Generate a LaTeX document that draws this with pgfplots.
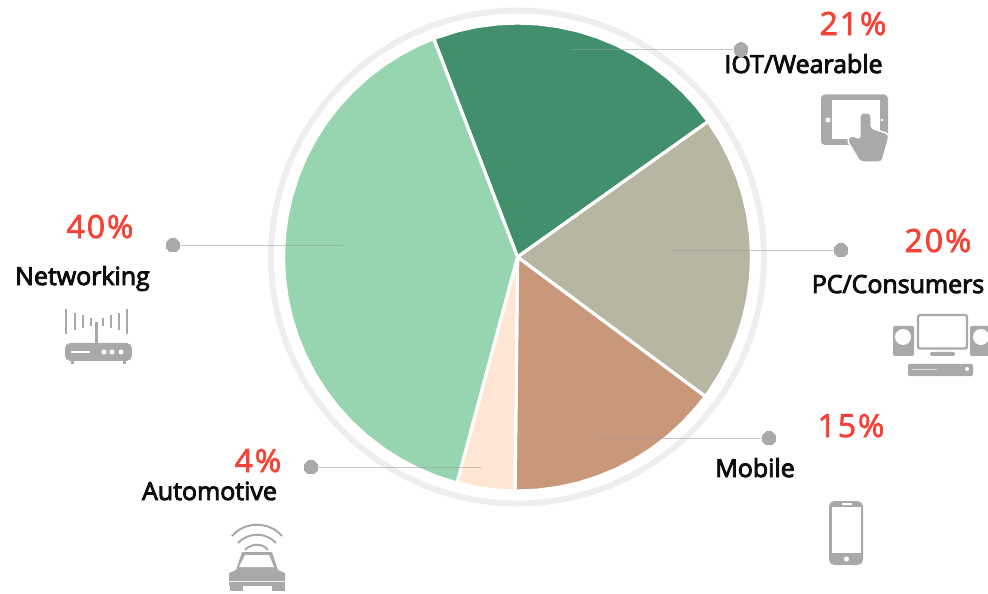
\documentclass[border=0pt]{standalone}
\usepackage{fontspec}
\setmainfont{Open Sans}
\newfontfamily\labfont[FakeBold=3.5]{Open Sans}
\newfontfamily\pctfont[FakeBold=2.2,LetterSpace=6]{Open Sans}
\usepackage{pgfplots}
\pgfplotsset{compat=1.18}
\definecolor{cA}{HTML}{41906B}
\definecolor{cB}{HTML}{B7B6A2}
\definecolor{cC}{HTML}{C9987B}
\definecolor{cD}{HTML}{FFE5D3}
\definecolor{cE}{HTML}{97D5B1}
\definecolor{ring}{HTML}{EEEEEE}
\definecolor{red1}{HTML}{F44336}
\definecolor{ico}{HTML}{A9A9A9}
\definecolor{leadc}{HTML}{999999}
\newcommand\slice[2]{\addplot[fill=#1,draw=white,line width=2.4pt,line join=round]
  table[row sep=\\,x expr={517.5+\thisrow{r}*cos(\thisrow{a})},y expr={257-\thisrow{r}*sin(\thisrow{a})}] {a r\\ #2};}
\newcommand\lead[4]{\addplot[leadc,opacity=.55,line width=.75pt] coordinates {(#1,#3) (#2,#3)};
  \addplot[ico,only marks,mark=*,mark size=5.2pt,mark options={solid,fill=ico,draw=ico,line width=0pt}] coordinates {(#4,#3)};}
\newcommand\lab[3]{\node[anchor=base,inner sep=0pt,font=\fontsize{18.7}{20}\labfont,text=black!95] at (axis cs:#1,#2) {#3};}
\newcommand\pct[3]{\node[anchor=base,inner sep=0pt,font=\fontsize{24}{26}\pctfont,text=red1] at (axis cs:#1,#2) {#3};}
\begin{document}
\begin{tikzpicture}
\begin{axis}[at={(0pt,0pt)},anchor=south west,width=741pt,height=444.75pt,scale only axis,hide axis,
  xmin=0,xmax=988,ymin=0,ymax=593,y dir=reverse,clip=false]
\addplot[ring,line width=4.5pt,smooth] table[row sep=\\,x expr={517.5+\thisrow{r}*cos(\thisrow{a})},y expr={257-\thisrow{r}*sin(\thisrow{a})}] {a r\\
0 246.5\\5 246.5\\10 246.5\\15 246.5\\20 246.5\\25 246.5\\30 246.5\\35 246.5\\40 246.5\\45 246.5\\50 246.5\\55 246.5\\60 246.5\\65 246.5\\70 246.5\\75 246.5\\80 246.5\\85 246.5\\90 246.5\\95 246.5\\100 246.5\\105 246.5\\110 246.5\\115 246.5\\120 246.5\\125 246.5\\130 246.5\\135 246.5\\140 246.5\\145 246.5\\150 246.5\\155 246.5\\160 246.5\\165 246.5\\170 246.5\\175 246.5\\180 246.5\\185 246.5\\190 246.5\\195 246.5\\200 246.5\\205 246.5\\210 246.5\\215 246.5\\220 246.5\\225 246.5\\230 246.5\\235 246.5\\240 246.5\\245 246.5\\250 246.5\\255 246.5\\260 246.5\\265 246.5\\270 246.5\\275 246.5\\280 246.5\\285 246.5\\290 246.5\\295 246.5\\300 246.5\\305 246.5\\310 246.5\\315 246.5\\320 246.5\\325 246.5\\330 246.5\\335 246.5\\340 246.5\\345 246.5\\350 246.5\\355 246.5\\360 246.5\\};
\slice{cA}{0 0\\111 234\\105 234\\100 234\\95 234\\90 234\\85 234\\80 234\\75 234\\70 234\\65 234\\60 234\\55 234\\50 234\\45 234\\40 234\\35.4 234\\0 0\\}
\slice{cB}{0 0\\35.4 234\\30 234\\25 234\\20 234\\15 234\\10 234\\5 234\\0 234\\-5 234\\-10 234\\-15 234\\-20 234\\-25 234\\-30 234\\-35 234\\-36.6 234\\0 0\\}
\slice{cC}{0 0\\-36.6 234\\-40 234\\-45 234\\-50 234\\-55 234\\-60 234\\-65 234\\-70 234\\-75 234\\-80 234\\-85 234\\-90 234\\-90.6 234\\0 0\\}
\slice{cD}{0 0\\-90.6 234\\-95 234\\-100 234\\-105 234\\0 0\\}
\slice{cE}{0 0\\-105 234\\-110 234\\-115 234\\-120 234\\-125 234\\-130 234\\-135 234\\-140 234\\-145 234\\-150 234\\-155 234\\-160 234\\-165 234\\-170 234\\-175 234\\-180 234\\-185 234\\-190 234\\-195 234\\-200 234\\-205 234\\-210 234\\-215 234\\-220 234\\-225 234\\-230 234\\-235 234\\-240 234\\-245 234\\-249 234\\0 0\\}
\lead{572}{741}{49.5}{741}
\lead{672}{841}{250}{841}
\lead{600}{769}{438}{769}
\lead{311}{481}{467}{311}
\lead{173}{343}{245}{173}
\pct{853}{35}{21\%}
\pct{938}{252}{20\%}
\pct{851}{437}{15\%}
\pct{258}{472}{4\%}
\pct{100}{238}{40\%}
\lab{803.5}{73}{IOT/Wearable}
\lab{898}{293}{PC/Consumers}
\lab{755}{477}{Mobile}
\lab{209.5}{500}{Automotive}
\lab{82.5}{285}{Networking}
\end{axis}
\begin{scope}[x=.75pt,y=-.75pt,yshift=444.75pt]
\useasboundingbox (0,0) rectangle (988,593);
% tablet
\fill[ico,rounded corners=3pt] (821,94.5) rectangle (888,145);
\fill[white] (832,100.5) rectangle (880,139);
\fill[white] (828,120) circle (1.9pt);
\fill[white] (882,120) circle (1.1pt);
\filldraw[ico,draw=white,line width=1.1pt,line join=round,rounded corners=2.4pt]
 (860,128) -- (860,113) -- (871,113) -- (871,128) -- (889,134) -- (888,141) -- (882,162) -- (860,162) -- (847,140) -- (851,135) -- (860,139) -- cycle;
% pc
\draw[ico,line width=1.7pt,rounded corners=1.5pt] (918,315) rectangle (967,348.5);
\fill[ico,rounded corners=1pt] (930,352) rectangle (955,356);
\fill[ico,rounded corners=1pt] (893,326) rectangle (914,356);
\fill[white] (903,337) circle (6pt);
\begin{scope}
\clip (960,300) rectangle (988,380);
\fill[ico,rounded corners=1pt] (970,326) rectangle (995,356);
\fill[white] (981,337) circle (6pt);
\end{scope}
\fill[ico,rounded corners=1pt] (908,364) rectangle (973,376);
\draw[white,opacity=.6,line width=.4pt] (912,369.5) -- (937,369.5);
\fill[white] (967,369) circle (1.5pt);
% phone
\fill[ico,rounded corners=4pt] (829,501) rectangle (863,565);
\fill[white] (832,507) rectangle (861,553);
\fill[white,rounded corners=.5pt] (842,503) rectangle (852,505);
\fill[white] (846.5,559) circle (1.9pt);
% car
\draw[ico,line width=1.5pt] (232,536) .. controls (245,521) and (269,521) .. (282,536);
\draw[ico,line width=1.5pt] (238,543) .. controls (248,532) and (266,532) .. (276,543);
\draw[ico,line width=1.5pt] (245,550) .. controls (251,543) and (263,543) .. (268,550);
\fill[ico] (242,552) -- (272,552) -- (278,570) -- (285,573) -- (285,581) -- (229,581) -- (229,573) -- (236,570) -- cycle;
\fill[white] (245,555) -- (269,555) -- (274,567) -- (239,567) -- cycle;
\fill[ico] (229,582) rectangle (285,586);
\fill[ico] (230,586) rectangle (243,591);
\fill[ico] (272,586) rectangle (285,591);
% router
\fill[ico,rounded corners=4pt] (65,343) rectangle (132,361);
\fill[white] (71,351) rectangle (90,353);
\fill[white] (104,352) circle (1.9pt);
\fill[white] (112,352) circle (1.9pt);
\fill[white] (121,352) circle (1.9pt);
\fill[ico] (71,361) rectangle (73.5,364.5);
\fill[ico] (123,361) rectangle (125.5,364.5);
\draw[ico,line width=2.2pt] (96.7,322) -- (96.7,343);
\foreach \x/\a/\b in {66/309.3/334,74.7/312.7/330,83.3/315.3/328.3,91/318.3/326,102.7/318.3/326,110.7/315.3/328.3,119.3/312.7/330,127.3/309.3/334}
  \draw[ico,line width=1.3pt] (\x,\a) -- (\x,\b);
\end{scope}
\end{tikzpicture}
\end{document}
